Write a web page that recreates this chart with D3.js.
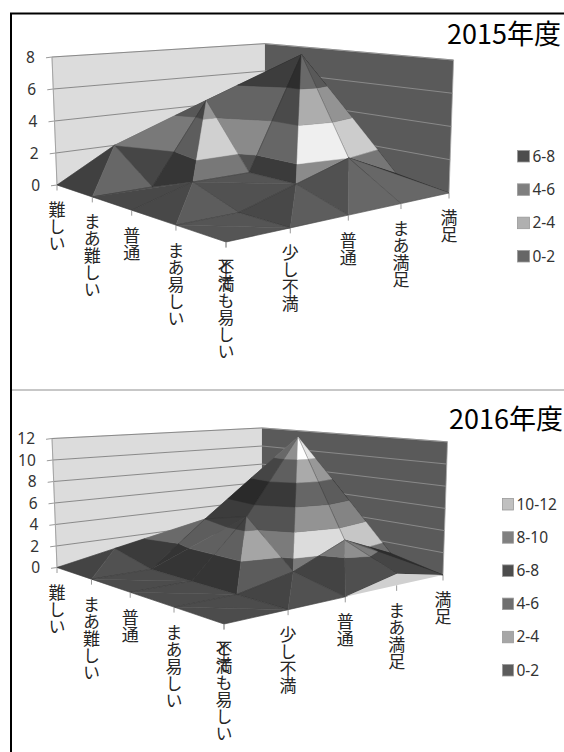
<!DOCTYPE html>
<html><head><meta charset="utf-8">
<style>html,body{margin:0;padding:0;background:#fff}svg{display:block}</style>
<script src="https://cdn.jsdelivr.net/npm/d3@7"></script></head>
<body><svg id="c" width="564" height="752"></svg>
<script>
// Axis categories along the two floor edges
const difficulty = ["難しい","まあ難しい","普通","まあ易しい","とても易しい"];
const satisfaction = ["不満","少し不満","普通","まあ満足","満足"];

// Response counts: one row per difficulty level, one column per satisfaction level
const counts2015 = [
  [0,2,1,1,0],
  [0,0,5,2,1],
  [0,1,1,8,1],
  [0,0,1,2,0.5],
  [0,0,0,0,0]
];
const counts2016 = [
  [0,1,1,1,0],
  [0,0,4,3,1],
  [0,0,5,12,1],
  [0,0,1,3,1],
  [0,0,0,1,0]
];

// Value bands, lowest first
const bands2015 = ["0-2","2-4","4-6","6-8"];
const grays2015 = ["#666666","#b0b0b0","#7f7f7f","#4d4d4d"];
const bands2016 = ["0-2","2-4","4-6","6-8","8-10","10-12"];
const grays2016 = ["#5c5c5c","#a6a6a6","#6f6f6f","#4d4d4d","#808080","#c0c0c0"];

const svg = d3.select("#c");
const JP = "'Noto Sans CJK JP',sans-serif";
const LATIN = "'Noto Sans',sans-serif";

// Page frame
svg.append("line").attr("x1",10).attr("x2",564).attr("y1",13.5).attr("y2",13.5).attr("stroke","#000").attr("stroke-width",2);
svg.append("line").attr("x1",11).attr("x2",11).attr("y1",13).attr("y2",752).attr("stroke","#000").attr("stroke-width",2);
svg.append("line").attr("x1",12).attr("x2",564).attr("y1",390).attr("y2",390).attr("stroke","#b4b4b4").attr("stroke-width",1.5);

// Square-to-quad perspective transform for the floor of the plot box
function floorTransform(L,F,R,B){
  const sx=L[0]-F[0]+R[0]-B[0], sy=L[1]-F[1]+R[1]-B[1];
  const dx1=F[0]-R[0], dx2=B[0]-R[0], dy1=F[1]-R[1], dy2=B[1]-R[1];
  const den=dx1*dy2-dx2*dy1;
  const g=(sx*dy2-dx2*sy)/den, h=(dx1*sy-sx*dy1)/den;
  const A=F[0]-L[0]+g*F[0], Bx=B[0]-L[0]+h*B[0], D=F[1]-L[1]+g*F[1], E=B[1]-L[1]+h*B[1];
  return (s,t)=>{
    const w=g*s+h*t+1;
    return {x:(A*s+Bx*t+L[0])/w, y:(D*s+E*t+L[1])/w, w};
  };
}

// Keep the part of a polygon on one side of a height plane
function clipZ(poly,level,keepAbove){
  const out=[], inside=p=>keepAbove? p[2]>=level : p[2]<=level;
  poly.forEach((p,i)=>{
    const q=poly[(i+1)%poly.length];
    if(inside(p)) out.push(p);
    if(inside(p)!==inside(q)){
      const k=(level-p[2])/(q[2]-p[2]);
      out.push([p[0]+(q[0]-p[0])*k,p[1]+(q[1]-p[1])*k,level]);
    }
  });
  return out;
}

// Facet brightness from its surface normal; the light comes from the right of the viewer
function facetShade(tri,relief){
  const [p0,p1,p2]=tri;
  const ux=p1[0]-p0[0],uy=p1[1]-p0[1],uz=p1[2]-p0[2];
  const vx=p2[0]-p0[0],vy=p2[1]-p0[1],vz=p2[2]-p0[2];
  let nx=uy*vz-uz*vy, ny=uz*vx-ux*vz, nz=(ux*vy-uy*vx)*relief;
  if(nz<0){nx=-nx;ny=-ny;nz=-nz;}
  const len=Math.hypot(nx,ny,nz); nx/=len;ny/=len;nz/=len;
  return 0.288*nx+0.578*ny-0.5*nz+1.33+1.4*Math.max(0,nx-0.72)-1.9*Math.max(0,ny);
}

function drawChart(o){
  const g=svg.append("g");
  const nA=difficulty.length-1, nB=satisfaction.length-1;
  const s=d3.scaleLinear().domain([0,nA]).range([0,1]);
  const t=d3.scaleLinear().domain([0,nB]).range([0,1]);
  const floor=floorTransform(o.L,o.F,o.R,o.B);
  const zPx=d3.scaleLinear().domain([0,o.zMax]).range([0,o.zHeight]);
  const at=(a,b,z)=>{ const f=floor(s(a),t(b)), h=zPx(z)/f.w; return [f.x+(f.x-o.cx)*h*0.000188, f.y-h]; };
  const line=d3.line();
  const closed=pts=>line(pts)+"Z";

  // Walls
  g.append("path").attr("d",closed([at(0,0,0),at(0,nB,0),at(0,nB,o.zMax),at(0,0,o.zMax)])).attr("fill","#dcdcdc").attr("stroke","#c4c4c4").attr("stroke-width",.6);
  g.append("path").attr("d",closed([at(0,nB,0),at(nA,nB,0),at(nA,nB,o.zMax),at(0,nB,o.zMax)])).attr("fill","#5a5a5a");
  g.append("path").attr("d",line([at(0,nB,o.zMax),at(nA,nB,o.zMax),at(nA,nB,0)])).attr("fill","none").attr("stroke","#a8a8a8").attr("stroke-width",.8);
  const ticksZ=d3.range(0,o.zMax+1,2);
  ticksZ.forEach(v=>{
    g.append("path").attr("d",line([at(0,0,v),at(0,nB,v)])).attr("fill","none").attr("stroke","#808080").attr("stroke-width",.9);
    g.append("path").attr("d",line([at(0,nB,v),at(nA,nB,v)])).attr("fill","none").attr("stroke","#8f8f8f").attr("stroke-width",.9);
    const p=at(0,0,v);
    g.append("line").attr("x1",p[0]-6).attr("y1",p[1]+.8).attr("x2",p[0]).attr("y2",p[1]).attr("stroke","#9a9a9a");
    g.append("text").text(v).attr("x",p[0]-17).attr("y",p[1]+5.5).attr("text-anchor","end")
      .attr("font-family",LATIN).attr("font-size",15.5).attr("fill","#333");
  });
  g.append("path").attr("d",line([at(0,0,0),at(0,0,o.zMax)])).attr("fill","none").attr("stroke","#a4a4a4").attr("stroke-width",1);

  // Surface, painted from the far corner towards the viewer
  const Z=o.values;
  const relief=o.zMax/2;
  const layer=g.append("g");
  const paintFacet=(tri,gridEdges)=>{
    const f=facetShade(tri,relief);
    o.grays.forEach((gray,i)=>{
      const lo=i*2, hi=(i+1)*2;
      let poly=clipZ(tri,lo,true);
      if(poly.length) poly=clipZ(poly,hi,false);
      if(poly.length<3) return;
      const v=Math.min(255,d3.rgb(gray).r*f);
      const c=d3.rgb(v,v,v).formatHex();
      layer.append("path").attr("d",closed(poly.map(p=>at(p[0],p[1],p[2])))).attr("fill",c).attr("stroke",c).attr("stroke-width",.5);
    });
    gridEdges.forEach(([p,q])=>{
      layer.append("path").attr("d",line([at(p[0],p[1],p[2]),at(q[0],q[1],q[2])])).attr("fill","none")
        .attr("stroke","#2a2a2a").attr("stroke-opacity",.4).attr("stroke-width",.7);
    });
  };
  for(let a=0;a<nA;a++){
    for(let b=nB-1;b>=0;b--){
      const p00=[a,b,Z[a][b]],p01=[a,b+1,Z[a][b+1]],p10=[a+1,b,Z[a+1][b]],p11=[a+1,b+1,Z[a+1][b+1]];
      // Each cell folds along whichever diagonal carries the larger total height
      if(p01[2]+p10[2]>p00[2]+p11[2]){
        paintFacet([p00,p10,p01],[[p00,p10],[p00,p01]]);
        paintFacet([p11,p01,p10],[[p11,p01],[p11,p10]]);
      }else{
        paintFacet([p00,p01,p11],[[p00,p01],[p01,p11]]);
        paintFacet([p00,p10,p11],[[p00,p10],[p10,p11]]);
      }
    }
  }

  // Pale skirt between the raised front edge and the floor
  const skirt=[];
  d3.range(nB+1).forEach(b=>skirt.push(at(nA,b,Z[nA][b])));
  d3.range(nB,-1,-1).forEach(b=>skirt.push(at(nA,b,0)));
  g.append("path").attr("d",closed(skirt)).attr("fill","#d0d0d0");

  // Category ticks and upright vertical labels
  const axisLabel=(a,b,txt)=>{
    const p=at(a,b,0);
    g.append("line").attr("x1",p[0]).attr("y1",p[1]).attr("x2",p[0]).attr("y2",p[1]+5.5).attr("stroke","#9a9a9a");
    g.append("text").text(txt).attr("x",p[0]).attr("y",p[1]+16.5)
      .style("writing-mode","vertical-rl").style("text-orientation","upright")
      .attr("font-family",JP).attr("font-size",17).attr("fill","#262626");
  };
  difficulty.forEach((d,i)=>axisLabel(i,0,d));
  satisfaction.forEach((d,i)=>{ axisLabel(nA,i,d); });

  // Title
  g.append("text").text(o.title).attr("x",o.titleX).attr("y",o.titleY)
    .attr("font-family",JP).attr("font-size",27).attr("fill","#000");

  // Legend, highest band on top
  const legendY=d3.scalePoint().domain(d3.range(o.bands.length).reverse()).range(o.legendRange);
  o.bands.forEach((name,i)=>{
    const y=legendY(i);
    g.append("rect").attr("x",o.legendX+.5).attr("y",y-5.5).attr("width",o.swatch).attr("height",11.5)
      .attr("fill",o.swatchGrays[i]).attr("stroke","#9a9a9a").attr("stroke-width",.8);
    g.append("text").text(name).attr("x",o.legendX+o.swatch+3.5).attr("y",y+5.5)
      .attr("font-family",LATIN).attr("font-size",15.5).attr("fill","#333");
  });
}

drawChart({
  title:"2015年度", titleX:447, titleY:44,
  values:counts2015, bands:bands2015, grays:grays2015, swatchGrays:grays2015,
  zMax:8, zHeight:128, cx:265,
  L:[57,185], F:[226,242], R:[449,193], B:[265,153],
  legendX:517, swatch:12, legendRange:[156,256]
});
drawChart({
  title:"2016年度", titleX:449, titleY:429,
  values:counts2016, bands:bands2016, grays:grays2016, swatchGrays:grays2016,
  zMax:12, zHeight:129, cx:262,
  L:[57,567.5], F:[224,624], R:[443,575], B:[262,536.5],
  legendX:502, swatch:11, legendRange:[504,670]
});
</script></body></html>
